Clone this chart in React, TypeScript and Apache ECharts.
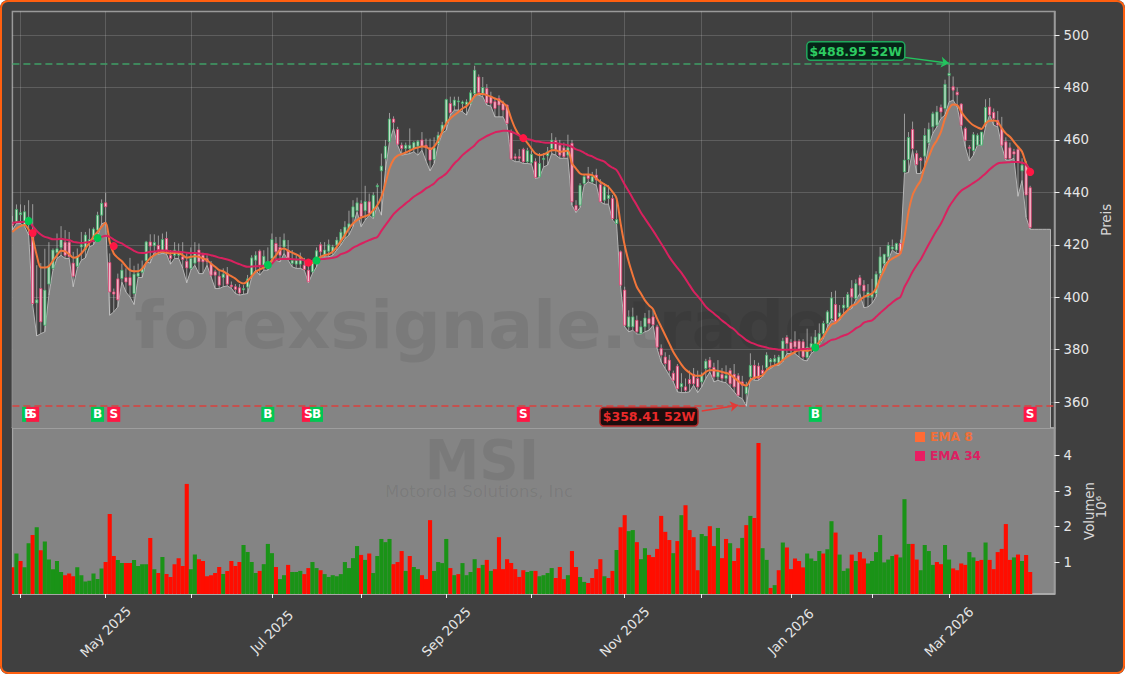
import { useEffect, useRef } from 'react'
import * as echarts from 'echarts'

// trading days, from 2025-03-28, plus a few empty days at the right edge
const holidays = ['2025-04-18', '2025-05-26', '2025-06-19', '2025-07-04', '2025-09-01', '2025-11-27', '2025-12-25', '2026-01-01', '2026-01-19', '2026-02-16']
const categories: string[] = []
for (let t = Date.UTC(2025, 2, 28); categories.length < 258; t += 86400000) {
  const d = new Date(t)
  const iso = d.toISOString().slice(0, 10)
  if (d.getUTCDay() !== 0 && d.getUTCDay() !== 6 && !holidays.includes(iso)) categories.push(iso)
}
const tickDates = ['2025-04-01', '2025-05-01', '2025-06-02', '2025-07-01', '2025-08-01', '2025-09-02', '2025-10-01', '2025-11-03', '2025-12-01', '2026-01-02', '2026-02-02', '2026-03-02']
const labelDates: Record<string, string> = {
  '2025-05-01': 'May 2025',
  '2025-07-01': 'Jul 2025',
  '2025-09-02': 'Sep 2025',
  '2025-11-03': 'Nov 2025',
  '2026-01-02': 'Jan 2026',
  '2026-03-02': 'Mar 2026'
}
const priceTicks = [360, 380, 400, 420, 440, 460, 480, 500]
const volumeTicks = [1, 2, 3, 4]

const opens = [
  428, 428.7, 431.5, 427.2, 428, 424.3, 397.8, 403.3, 389.3, 405,
  411, 417, 419, 421, 421, 413, 411.8, 419.2, 418, 421,
  422, 425.6, 431.3, 436, 413.2, 402, 407, 407.1, 407.5, 407.5,
  401.4, 408, 409.5, 413.9, 421.1, 419.6, 419.8, 417.3, 422.4, 416,
  416, 416, 415.4, 413.7, 411, 413, 418, 416, 414.8, 412.8,
  409.7, 408, 407.5, 409, 404.6, 404, 403.6, 402.8, 403.9, 408.4,
  414.1, 417.6, 412.2, 411, 414.8, 420.5, 419, 419.2, 418, 412.9,
  412.6, 412.6, 412.2, 410.3, 409.7, 413.5, 420, 416, 417.5, 417.3,
  419.9, 421.1, 423.3, 426, 430.5, 433, 435.7, 433, 436.4, 430.7,
  442.1, 448.2, 453, 459.3, 468, 464, 458, 456.7, 456.7, 456.7,
  457.6, 460, 458, 457, 452.5, 458.6, 463, 466.3, 473.9, 473,
  474.5, 473.9, 473.5, 474, 477.7, 484, 477.7, 479.6, 476.5, 474.6,
  475.8, 473.9, 473.3, 463, 453.6, 453.6, 456.4, 451.7, 451.3, 451.7,
  445.9, 452.5, 454, 456.7, 459.7, 458, 457, 454.2, 458.7, 435,
  435.1, 443.4, 446.6, 444, 446.6, 443, 437, 437.7, 437.7, 428.1,
  417.3, 402.7, 388.7, 388.7, 391.2, 386.1, 388.7, 391.8, 392.5, 388.7,
  380.4, 377.2, 376, 371, 373.7, 365.8, 365.8, 368.6, 370.6, 369,
  367.7, 372.8, 376, 373.2, 369.6, 370.6, 369, 372, 370.6, 370,
  367.7, 363.2, 369.6, 374, 373.7, 372.1, 373.2, 375.3, 375.3, 374.8,
  376, 384.6, 382.7, 383.2, 383.2, 383, 377, 380, 379.8, 382.3,
  386.1, 390, 391.8, 397.2, 392.5, 395.9, 396, 403.3, 399.5, 407.4,
  404.6, 400.1, 400.1, 401.4, 409, 412.8, 415.4, 418.4, 418, 420.5,
  447.8, 452.5, 464, 454.8, 453, 453.8, 458.9, 465, 465.6, 472.4,
  472, 484.6, 480.3, 478.2, 473.7, 464.4, 457.2, 456, 458, 458,
  466.3, 472.6, 470.5, 467.5, 464.4, 459.3, 457, 455.5, 456.4, 448.2,
  450.4, 441.8
]
const highs = [
  431, 435.4, 435.4, 435.1, 437, 435.5, 412.2, 413, 418.5, 421,
  418.6, 424.3, 427.1, 425.6, 424.9, 417.3, 418.6, 424.9, 424.9, 426.2,
  426.6, 432.6, 437.3, 439.8, 416.7, 403.3, 409, 412.8, 411, 415,
  412, 412.8, 414, 421.5, 424, 424, 423.5, 424.3, 425, 418,
  421, 420.5, 421, 416.7, 419, 421, 420.5, 417, 416, 413.8,
  410.5, 410, 411, 411.5, 406, 405, 405, 404.6, 408.5, 416,
  417.5, 418.2, 417.9, 419, 424.3, 423, 423, 424.3, 421.8, 418,
  416, 417, 415, 412.4, 414, 419, 421, 421, 422, 420,
  423, 426, 429, 433, 437, 438, 437, 442.5, 439.5, 440,
  443.4, 454.8, 460, 470.3, 469, 465, 459, 459, 464.4, 459.5,
  460, 463, 460.5, 460.5, 461, 463.1, 466.9, 475.7, 476.5, 476.5,
  476.5, 475, 475.5, 479, 488.3, 485, 484, 481.3, 478.4, 476,
  477, 475, 473.5, 464, 454.8, 456.5, 457, 457, 456, 453,
  455, 455, 457.3, 462.6, 461, 460, 459, 462, 460, 437,
  443.5, 447, 449.7, 447.8, 449, 445, 443.5, 442.7, 439, 438,
  417.8, 404, 395, 396, 393, 391, 394, 395, 395, 389.5,
  382, 379, 378, 372, 374.5, 371, 369, 372, 373, 372,
  371.3, 376.5, 377.2, 375, 376, 373, 374, 373, 374.5, 371,
  370, 367.7, 378.6, 376, 375, 374, 379, 376.8, 378, 378,
  384.5, 385.5, 384, 387, 384, 384, 388, 385, 387.5, 390,
  391, 395, 402, 402.5, 397, 400, 402, 406.5, 406.8, 408.5,
  406.5, 405, 407, 409.9, 419.2, 416.5, 421, 422, 420.8, 422,
  470, 463, 467, 456, 453.5, 464.5, 466.6, 470.8, 473, 473.5,
  483, 488.95, 484.2, 480, 474, 465, 458, 463, 462.5, 463,
  475.5, 476, 472, 471, 468.8, 461, 459, 456.6, 457.5, 453,
  452, 442.5
]
const lows = [
  425.6, 428.1, 428.1, 427, 423.7, 397, 385.2, 386.1, 386.8, 400.8,
  410.3, 414.8, 416, 414.8, 414.8, 404, 411, 414.1, 415, 419.2,
  420, 423, 428, 428.6, 393.1, 394.4, 396.3, 405.8, 402, 400.1,
  397.2, 407.5, 407.5, 413.5, 413, 417.2, 416.4, 416.7, 416.5, 412.6,
  414.8, 414.8, 411, 405.5, 410.3, 412.2, 409, 409, 412.2, 407.8,
  403.3, 403.3, 404, 404.3, 403.4, 401.4, 400.8, 401.1, 401.4, 407.5,
  410.3, 408.4, 410.3, 410.3, 413.6, 414.1, 413.5, 416.7, 414.1, 411.6,
  411, 411, 410.3, 405.5, 409, 411.6, 415.4, 415.4, 415.4, 416,
  418, 419.9, 422.4, 423.7, 426.9, 432.6, 426.9, 429.4, 431.3, 430,
  435, 431.3, 448.5, 459.3, 464.4, 458, 454.2, 454.5, 454.8, 455.5,
  454.2, 456.1, 452, 448.2, 451, 458, 462.5, 463.7, 469.5, 471.4,
  471.4, 470.7, 469.5, 473.3, 477.5, 477.1, 476.5, 473.3, 472.9, 468.8,
  468.8, 468.8, 465.6, 452.6, 451.7, 451.7, 451, 451, 450.8, 445.3,
  445.7, 449.7, 450.4, 454.8, 454.2, 453, 453, 453, 435.1, 432.3,
  434.2, 442.7, 444, 443.4, 442.7, 436.4, 435.5, 435.5, 429.4, 427.9,
  403.9, 388.7, 386.8, 387.4, 385.9, 385.9, 386.8, 387.4, 389.3, 380.4,
  375.3, 372.8, 370.2, 367.7, 363.9, 363.6, 363.6, 363.9, 366.4, 363.6,
  365.8, 369, 371.5, 367.7, 368.3, 367.7, 367.4, 365.8, 363.9, 362,
  361.3, 358.41, 369, 368.3, 368.3, 369.6, 372.1, 372.8, 374, 374,
  375.3, 378.5, 378.5, 378.5, 377.2, 376, 375.7, 378.5, 379.8, 381.7,
  384.2, 388.7, 391.2, 390.6, 391.2, 393.8, 395, 395.7, 398.9, 401.4,
  396, 396.3, 397.6, 400.1, 408.4, 412.2, 414.1, 418, 416.7, 416.7,
  447.2, 447.6, 456, 447.2, 447.2, 449.7, 458, 462.5, 465, 468.2,
  469.5, 474.5, 475.2, 472.6, 465, 457.4, 452, 454.2, 458, 458,
  465, 469.5, 465.6, 465, 457.4, 452.3, 452.3, 453, 438.5, 444.6,
  430.4, 425.9
]
const closes = [
  427.5, 433.5, 432.2, 432.6, 430.5, 397.6, 399, 390.6, 402.7, 412,
  418, 418.5, 422, 416, 415.5, 408, 415.4, 420, 423.7, 422,
  426, 431.3, 435.8, 434.5, 402, 401.2, 399, 410.3, 405.8, 404.5,
  408.8, 409.2, 411, 421.1, 419.5, 420.9, 418.2, 422, 418, 414.8,
  418, 417.5, 414.4, 411.2, 414.8, 416.7, 413.5, 413.5, 413.5, 408.4,
  408.4, 404.6, 408.8, 405, 404, 403, 401.6, 403.3, 407, 415,
  416, 412.2, 415.6, 413.5, 422, 417.3, 416, 421.8, 415, 414.1,
  414.1, 415.4, 410.6, 405.9, 412.9, 417.7, 417.3, 418, 420, 419.2,
  421.8, 424.8, 426.8, 428, 434.5, 436, 430.7, 436.5, 432, 438.9,
  442.6, 450, 457.6, 468, 466.7, 458.4, 456.7, 458, 458, 459,
  459.5, 457.5, 457, 452.3, 457, 461.8, 465.7, 475.4, 470.4, 475.2,
  474.9, 474.5, 474.5, 478, 486.6, 478.1, 480, 474.2, 474, 472,
  473.3, 471.4, 466.3, 452.7, 453, 453, 451.7, 455.9, 454.5, 445.7,
  451, 453, 455.5, 459.9, 456.1, 454.2, 453.6, 457, 436.4, 433.2,
  442.7, 446, 445.3, 446, 444.7, 436.4, 442.1, 438.9, 430, 429.6,
  404.6, 389.3, 392.5, 392.5, 386.8, 388.7, 392.1, 390, 389.5, 381,
  377.9, 374.7, 372.1, 368.3, 365.1, 367, 364.5, 367, 367, 365.8,
  370.2, 375.6, 373.2, 369.6, 371.5, 369, 370.2, 367, 365.8, 362.6,
  366.4, 365.8, 374, 369, 369, 370.9, 377.9, 376.2, 376.6, 377.2,
  383.3, 382.3, 379.8, 381, 379.8, 377.2, 381, 382.3, 384.8, 386.1,
  390, 394.4, 399.7, 390.7, 394, 397, 401, 400.1, 405.2, 404.6,
  402.4, 401.8, 401.4, 408.8, 415.4, 416.4, 419.8, 419.2, 420.5, 416.8,
  452.3, 460.9, 456.7, 450.6, 452.2, 461.7, 464.1, 470, 470.7, 470.7,
  481.2, 485.4, 479, 477.2, 465.6, 459.9, 456.8, 462, 461.8, 463,
  472.4, 469.5, 468.2, 465.7, 458, 452.9, 452.9, 454.6, 451.6, 450.4,
  439, 426.6
]
// the grey mountain follows the lows and runs flat past the last candle
const mountainTail = [425.9, 425.9, 425.9, 425.9, 425.9]

const ema8 = [
  424.9, 426.2, 427.1, 427.5, 425.8, 422.4, 416, 411.3, 411.3, 411.8,
  413.9, 416, 417.7, 417.5, 416.4, 415.1, 415.4, 416.7, 418.6, 420.7,
  423, 424.9, 426.8, 428.4, 421.1, 416.7, 415, 413.7, 411.8, 410.3,
  409.9, 409.9, 410.9, 413.1, 415, 416, 416.9, 417.3, 417, 416.7,
  417, 416.9, 416, 415.1, 415.4, 415.6, 415.4, 414.8, 414.1, 412.8,
  411.6, 410.3, 409.9, 408.8, 408, 407.1, 405.8, 405.2, 406.2, 408,
  409.7, 410.6, 411.3, 412.2, 414.1, 416, 418, 418.6, 417.7, 417,
  416.3, 415.4, 414.1, 413.2, 413.1, 414.4, 415.4, 416, 416.4, 417.3,
  419.2, 421.4, 423.7, 426.2, 428.1, 429.4, 430.4, 430.9, 431.6, 433.2,
  435.1, 438.3, 443.4, 449.1, 452.5, 454, 454.6, 455.2, 455.9, 456.7,
  457.1, 457.5, 457.4, 456.5, 457.4, 459.9, 463.1, 466.3, 468.2, 469.5,
  470.7, 472, 472.9, 474.6, 476.7, 477.5, 477.5, 477.1, 476.5, 475.8,
  475.2, 474.2, 472.6, 468.2, 464.4, 461.8, 460.6, 458.9, 456.7, 454.8,
  454.2, 454.5, 455.2, 456.1, 456.1, 455.5, 455.7, 455.9, 451, 449.1,
  447.2, 446.8, 446.8, 446.6, 445.3, 444, 443.1, 442.1, 440.2, 437.7,
  428.1, 419.8, 413.5, 408.4, 403.9, 401.4, 398.8, 396.9, 395.4, 391.8,
  388.7, 385.5, 382.3, 379.1, 376.6, 374.3, 372.4, 371.2, 370.2, 370,
  370.2, 371.5, 372.1, 372.1, 371.9, 371.5, 371.1, 370.5, 369.3, 368,
  366.8, 366.2, 368.3, 369.3, 369.6, 370.2, 372.1, 373.4, 374, 374.7,
  376, 377.2, 378.2, 379.1, 379.8, 379.8, 379.5, 380, 381, 383,
  384.9, 387.4, 389.6, 390.2, 391.8, 393.5, 395, 396.7, 397.3, 398.8,
  400.1, 400.8, 401.4, 403.3, 407.1, 410.3, 413.5, 414.7, 415.6, 416.7,
  423, 432.6, 438.9, 442.1, 444.6, 449.7, 453.6, 457.4, 459.9, 463.1,
  468.2, 472, 473.5, 473.3, 470.7, 468.6, 466.9, 465.6, 464.8, 464.2,
  466.3, 467.3, 467.4, 466.9, 464.4, 462.5, 461.2, 459.3, 457.4, 455.5,
  451, 447.8
]
const ema34 = [
  428.4, 428.6, 428.7, 428.8, 429.1, 427.1, 425.3, 423.9, 423, 422.6,
  422.1, 422.1, 422.3, 422, 421.8, 421.1, 420.9, 420.7, 420.9, 421.1,
  421.5, 422.4, 423, 423.4, 423, 422, 421.1, 420.5, 419.5, 418.6,
  417.7, 417, 416.9, 417, 417.3, 417.4, 417.7, 417.8, 417.7, 417.5,
  417.4, 417.3, 417.2, 417, 416.9, 416.9, 416.7, 416.5, 416.4, 416,
  415.6, 415.1, 414.8, 414.4, 413.9, 413.2, 412.6, 412, 411.6, 411.7,
  411.8, 411.8, 412, 412.2, 412.8, 414.4, 414.5, 414.6, 414.6, 414.5,
  414.4, 414.4, 414.1, 413.5, 413.9, 414.4, 414.5, 414.6, 414.8, 415,
  415.4, 416.4, 416.9, 417.7, 418.8, 419.6, 420.4, 421.1, 421.8, 422.4,
  423, 425.3, 427.5, 429.6, 431.7, 433.2, 434.5, 435.8, 437, 438.3,
  439.3, 440.3, 441.5, 442.4, 443.4, 445, 446, 447.2, 449.1, 451,
  452.5, 454.2, 455.5, 456.7, 458, 459.7, 460.6, 461.5, 462.2, 462.9,
  463.2, 463.5, 463.5, 463.1, 462.5, 461.7, 461, 460.4, 460, 459.5,
  459.3, 459, 458.9, 458.9, 458.8, 458.5, 458.3, 458, 457.4, 456.4,
  455.9, 455.1, 454.2, 453.7, 452.9, 452.3, 451.7, 450.4, 449.4, 448.5,
  445.9, 443, 440.4, 437.7, 435.1, 432.3, 430, 427.7, 425.4, 423,
  420.5, 418, 415.4, 413.2, 411.2, 409.3, 407, 404.6, 402.2, 400.4,
  398.5, 396.4, 395, 393.8, 392.5, 391.1, 390, 388.7, 387.7, 386.1,
  384.9, 383.6, 382.8, 382.2, 381.6, 381.2, 380.8, 380.4, 380.2, 380,
  380, 380, 380, 380, 380, 380.2, 380.3, 380.4, 380.7, 381.1,
  381.8, 382.8, 383.7, 384, 384.7, 385.4, 385.9, 386.9, 388.1, 388.9,
  390.3, 390.8, 391.2, 392.5, 394, 395.3, 396.7, 398, 399.2, 400.1,
  403.9, 406.7, 409.7, 412.2, 414.4, 417.3, 420.2, 423, 425.6, 428.1,
  431.3, 434.5, 436.8, 438.9, 440.6, 441.6, 442.6, 443.6, 444.6, 445.9,
  447.2, 448.7, 450, 451, 451.3, 451.4, 451.5, 451.6, 451.6, 451.3,
  450.6, 448.5
]

// millions of shares
const volumes = [
  0.85, 1.24, 1.03, 0.85, 1.53, 1.76, 1.98, 1.33, 1.58, 1.07,
  0.8, 1.03, 0.72, 0.63, 0.68, 0.6, 0.85, 0.63, 0.45, 0.47,
  0.68, 0.52, 0.82, 1, 2.35, 1.17, 1.06, 0.97, 0.97, 0.97,
  1.06, 0.89, 0.94, 0.94, 1.68, 0.8, 0.69, 1.14, 0.66, 0.58,
  0.94, 1.11, 0.89, 3.2, 0.8, 1.21, 1.08, 1.03, 0.6, 0.63,
  0.69, 0.86, 0.66, 0.75, 1.03, 0.89, 1, 1.48, 1.28, 1,
  0.69, 0.75, 0.94, 1.51, 1.25, 0.86, 0.52, 0.63, 0.92, 0.72,
  0.72, 0.75, 0.66, 0.83, 1, 0.83, 0.77, 0.66, 0.58, 0.63,
  0.6, 0.66, 1, 0.83, 1.11, 1.45, 1.2, 1.06, 1.24, 0.69,
  1.17, 1.65, 1.56, 1.65, 0.94, 1, 1.31, 0.75, 1.17, 0.86,
  0.8, 0.63, 0.52, 2.18, 0.75, 1, 0.97, 1.65, 0.83, 0.63,
  0.66, 0.97, 0.63, 0.72, 1.08, 0.83, 0.92, 1.06, 0.75, 0.8,
  1.7, 0.8, 1.08, 0.97, 0.8, 0.58, 0.77, 0.72, 0.75, 0.75,
  0.6, 0.63, 0.69, 0.83, 0.55, 0.86, 0.52, 0.63, 1.31, 0.86,
  0.58, 0.44, 0.41, 0.55, 0.8, 1.08, 0.6, 0.55, 0.75, 1.34,
  1.98, 2.32, 1.87, 1.9, 1.56, 1.08, 1.39, 1.2, 1.14, 1.37,
  2.3, 1.85, 1.62, 1.25, 1.59, 2.32, 2.6, 1.9, 1.7, 0.77,
  1.79, 1.73, 2.01, 1.45, 1.96, 1.11, 1.65, 1.53, 1.03, 1.39,
  1.68, 2.04, 2.3, 2.24, 4.35, 1.39, 1.06, 0.27, 0.35, 0.77,
  1.55, 1.41, 0.8, 1.1, 1.03, 0.85, 1.24, 1.1, 1.03, 1.31,
  1.24, 1.36, 2.15, 1.83, 1.21, 0.75, 0.82, 1.21, 1.03, 1.28,
  1.1, 0.96, 1.03, 1.28, 1.76, 0.99, 1.07, 1.17, 1.21, 1.13,
  2.77, 1.51, 1.51, 1.07, 0.77, 1.48, 1.31, 0.92, 1, 0.94,
  1.48, 1.07, 0.82, 0.77, 0.96, 0.92, 1.28, 1.13, 1.03, 1.06,
  1.55, 1.06, 0.8, 1.28, 1.37, 2.07, 1.06, 1.13, 1.21, 1.03,
  1.2, 0.72
]
// R = down day, G = up day
const volumeSides = (
  'RGRGGRGRGG' + 'GGGRRRGGGG' + 'GGGRRRGGRR' + 'GGGGRGRGRR' + 'RRRRGGRRRR' +
  'RRGRRRRGGG' + 'GRGGGRGGRG' + 'GGRRGGRGGG' + 'GGGGGGRGRG' + 'GGGGRRRGRG' +
  'GRRRGGGGRG' + 'RGGGGRGRGR' + 'RRRRRRRGGR' + 'GGGGRRRGRR' + 'GGRRRRGRRG' +
  'RRGGRGGRRR' + 'RRRGRGRRRR' + 'GGRRGRRGRR' + 'GRGRRGGRGR' + 'GRRRRRGGGG' +
  'RGGRGGGRGR' + 'RGGGGGGGRG' + 'GGRRGGGGRR' + 'GGRRRRGGRR' + 'GRRRRRRGRG' +
  'RR'
).split('')

const signalIndex = [4, 5, 21, 25, 63, 73, 75, 126, 198, 251]
const signalSide = ['B', 'S', 'B', 'S', 'B', 'S', 'B', 'S', 'B', 'S']
const crossPrice = [429.1, 424.5, 422.6, 419.5, 412.3, 413.2, 414, 460.7, 380.8, 447.8]

const high52w = 488.95
const low52w = 358.41

const GREEN = '#00c853'
const RED = '#ff1744'
const EMA8_COLOR = '#f2763a'
const EMA34_COLOR = '#d9215f'

function renderCandle(_params: any, api: any) {
  const i = api.value(0)
  const o = api.value(1)
  const c = api.value(4)
  const up = c >= o
  const top = api.coord([i, api.value(2)])
  const bottom = api.coord([i, api.value(3)])
  const a = api.coord([i, Math.max(o, c)])
  const b = api.coord([i, Math.min(o, c)])
  return {
    type: 'group',
    children: [
      {
        type: 'line',
        shape: { x1: top[0], y1: top[1], x2: bottom[0], y2: bottom[1] },
        style: { stroke: '#cfcfcf', lineWidth: 0.8, opacity: 0.8 }
      },
      {
        type: 'rect',
        shape: { x: a[0] - 1.1, y: a[1], width: 2.2, height: Math.max(b[1] - a[1], 1) },
        style: {
          fill: up ? '#c3dfca' : '#f5c6d4',
          stroke: up ? '#3aad66' : '#e23d70',
          lineWidth: 0.8
        }
      }
    ]
  }
}

export default function App() {
  const chartRef = useRef<HTMLDivElement>(null)

  useEffect(() => {
    if (!chartRef.current) return
    document.body.style.margin = '0'
    document.body.style.background = '#fff'

    const chart = echarts.init(chartRef.current, undefined, { renderer: 'svg' })

    const isTick = (_i: number, value: string) => tickDates.includes(value)
    const textColor = '#e6e6e6'
    const gridLine = 'rgba(255,255,255,0.16)'

    const option: echarts.EChartsOption = {
      animation: false,
      backgroundColor: '#404040',
      textStyle: { fontFamily: 'DejaVu Sans' },
      legend: {
        left: 915,
        top: 431,
        orient: 'vertical',
        itemWidth: 10,
        itemHeight: 10,
        itemGap: 7,
        padding: 0,
        icon: 'rect',
        selectedMode: false,
        data: [
          { name: 'EMA 8', itemStyle: { color: '#ff6b35' }, textStyle: { color: '#f0703a', fontWeight: 'bold', fontSize: 12.2 } },
          { name: 'EMA 34', itemStyle: { color: '#e91e63' }, textStyle: { color: '#dc2062', fontWeight: 'bold', fontSize: 12.2 } }
        ]
      },
      grid: [
        { left: 12.4, right: 70.5, top: 11.5, height: 416.5, show: true, backgroundColor: '#404040', borderColor: '#9a9a9a', borderWidth: 1.5 },
        { left: 12.4, right: 70.5, top: 428, height: 166, show: true, backgroundColor: '#848484', borderColor: '#a6a6a6', borderWidth: 1.5 }
      ],
      xAxis: [
        {
          type: 'category',
          gridIndex: 0,
          data: categories,
          boundaryGap: false,
          axisLine: { show: false },
          axisTick: { show: false },
          axisLabel: { show: false },
          splitLine: { show: true, interval: isTick, lineStyle: { color: gridLine, width: 1 } }
        },
        {
          type: 'category',
          gridIndex: 1,
          data: categories,
          boundaryGap: false,
          axisLine: { show: true, lineStyle: { color: '#b0b0b0', width: 1.5 } },
          axisTick: { show: true, interval: isTick, length: 4, alignWithLabel: true, lineStyle: { color: '#f0f0f0' } },
          axisLabel: {
            interval: (_i: number, value: string) => !!labelDates[value],
            formatter: (value: string) => labelDates[value] || '',
            rotate: 45,
            align: 'center',
            verticalAlign: 'middle',
            margin: 38,
            color: textColor,
            fontSize: 13.3
          },
          splitLine: { show: false }
        }
      ],
      yAxis: [
        {
          type: 'value',
          gridIndex: 0,
          position: 'right',
          min: 350.1,
          max: 509,
          name: 'Preis',
          nameLocation: 'middle',
          nameGap: 37,
          nameRotate: 90,
          nameTextStyle: { color: '#d8d8d8', fontSize: 13.3 },
          axisLine: { show: true, lineStyle: { color: '#9a9a9a', width: 1.5 } },
          axisTick: { show: true, length: 5, customValues: priceTicks, lineStyle: { color: '#f0f0f0' } },
          axisLabel: { customValues: priceTicks, margin: 9, color: textColor, fontSize: 13.3 },
          splitLine: { show: true, lineStyle: { color: gridLine, width: 1 } }
        },
        {
          type: 'value',
          gridIndex: 1,
          position: 'right',
          min: 0.1,
          max: 4.775,
          name: 'Volumen',
          nameLocation: 'middle',
          nameGap: 16,
          nameRotate: 90,
          nameTextStyle: { color: '#d8d8d8', fontSize: 13.3 },
          axisLine: { show: true, lineStyle: { color: '#9a9a9a', width: 1.5 } },
          axisTick: { show: true, length: 5, customValues: volumeTicks, lineStyle: { color: '#f0f0f0' } },
          axisLabel: { customValues: volumeTicks, margin: 9, color: textColor, fontSize: 13.3 },
          splitLine: { show: false }
        }
      ],
      graphic: [
        // bars on a non-band axis are clipped a band too wide, so cover the overhang left of the plot
        {
          type: 'rect',
          z: 10,
          silent: true,
          shape: { x: 3, y: 428, width: 8.8, height: 167 },
          style: { fill: '#404040' }
        },
        {
          type: 'text',
          x: 482,
          y: 325,
          z: 1.5,
          silent: true,
          style: { text: 'forexsignale.trade', fill: 'rgba(0,0,0,0.075)', fontSize: 66.7, fontWeight: 'bold', fontFamily: 'DejaVu Sans', align: 'center', verticalAlign: 'middle' }
        },
        {
          type: 'text',
          x: 482,
          y: 460,
          z: 1.5,
          silent: true,
          style: { text: 'MSI', fill: 'rgba(0,0,0,0.075)', fontSize: 54.8, fontWeight: 'bold', fontFamily: 'DejaVu Sans', align: 'center', verticalAlign: 'middle' }
        },
        {
          type: 'text',
          x: 479,
          y: 491,
          z: 1.5,
          silent: true,
          style: { text: 'Motorola Solutions, Inc', fill: 'rgba(0,0,0,0.075)', fontSize: 16.5, fontFamily: 'DejaVu Sans', align: 'center', verticalAlign: 'middle' }
        },
        {
          type: 'text',
          x: 1101,
          y: 507,
          rotation: Math.PI / 2,
          style: { text: '10⁶', fill: '#d8d8d8', fontSize: 13.3, fontFamily: 'DejaVu Sans', align: 'center', verticalAlign: 'middle' }
        }
      ],
      series: [
        {
          name: 'Low',
          type: 'line',
          xAxisIndex: 0,
          yAxisIndex: 0,
          z: 1,
          data: [...lows, ...mountainTail],
          symbol: 'none',
          lineStyle: { color: '#b4b4b4', width: 1 },
          areaStyle: { color: '#848484', opacity: 1 },
          silent: true,
          markLine: {
            silent: true,
            symbol: 'none',
            label: { show: false },
            lineStyle: { color: '#b4b4b4', width: 1, type: 'solid' },
            data: [[{ coord: [256, mountainTail[0]] }, { coord: [256, 350.1] }]]
          }
        },
        {
          name: 'Candles',
          type: 'custom',
          xAxisIndex: 0,
          yAxisIndex: 0,
          z: 3,
          clip: true,
          renderItem: renderCandle,
          encode: { x: 0, y: [1, 2, 3, 4] },
          data: opens.map((o, i) => [i, o, highs[i], lows[i], closes[i]])
        },
        {
          name: 'EMA 8',
          type: 'line',
          xAxisIndex: 0,
          yAxisIndex: 0,
          z: 4,
          data: ema8,
          smooth: 0.3,
          symbol: 'none',
          lineStyle: { color: EMA8_COLOR, width: 2 },
          itemStyle: { color: EMA8_COLOR }
        },
        {
          name: 'EMA 34',
          type: 'line',
          xAxisIndex: 0,
          yAxisIndex: 0,
          z: 4,
          data: ema34,
          smooth: 0.3,
          symbol: 'none',
          lineStyle: { color: EMA34_COLOR, width: 2 },
          itemStyle: { color: EMA34_COLOR }
        },
        {
          name: 'Crossings',
          type: 'scatter',
          xAxisIndex: 0,
          yAxisIndex: 0,
          z: 5,
          symbolSize: 8,
          data: signalIndex.map((x, k) => ({
            value: [x, crossPrice[k]],
            itemStyle: { color: signalSide[k] === 'B' ? GREEN : RED, opacity: 1 }
          }))
        },
        {
          name: 'Signals',
          type: 'scatter',
          xAxisIndex: 0,
          yAxisIndex: 0,
          z: 6,
          symbol: 'rect',
          symbolSize: [13, 15],
          label: { show: true, position: 'inside', color: '#fff', fontWeight: 'bold', fontSize: 12 },
          data: signalIndex.map((x, k) => ({
            value: [x, 355.3],
            itemStyle: { color: signalSide[k] === 'B' ? GREEN : RED, opacity: 1 },
            label: { formatter: signalSide[k] }
          }))
        },
        {
          name: '52W high',
          type: 'scatter',
          xAxisIndex: 0,
          yAxisIndex: 0,
          z: 7,
          symbolSize: 1,
          itemStyle: { color: 'transparent', opacity: 1 },
          label: {
            show: true,
            position: 'inside',
            formatter: `$${high52w} 52W`,
            color: '#2ecc62',
            backgroundColor: '#062418',
            borderColor: '#20a85c',
            borderWidth: 1.5,
            borderRadius: 3,
            padding: [2, 2],
            fontWeight: 'bold',
            fontSize: 12.5
          },
          data: [[208, 493.9]],
          markLine: {
            silent: true,
            symbol: ['none', 'arrow'],
            symbolSize: 8,
            label: { show: false },
            lineStyle: { color: '#22c55e', width: 1.5, type: 'solid' },
            data: [[{ coord: [220, 491.5] }, { coord: [231, 489.3] }]]
          }
        },
        {
          name: '52W low',
          type: 'scatter',
          xAxisIndex: 0,
          yAxisIndex: 0,
          z: 7,
          symbolSize: 1,
          itemStyle: { color: 'transparent', opacity: 1 },
          label: {
            show: true,
            position: 'inside',
            formatter: `$${low52w} 52W`,
            color: '#e82a2a',
            backgroundColor: '#1c0d0d',
            borderColor: '#b02626',
            borderWidth: 1.5,
            borderRadius: 3,
            padding: [2, 2],
            fontWeight: 'bold',
            fontSize: 12.5
          },
          data: [[157, 354.4]],
          markLine: {
            silent: true,
            symbol: ['none', 'arrow'],
            symbolSize: 8,
            label: { show: false },
            lineStyle: { color: '#e53935', width: 1.5, type: 'solid' },
            data: [[{ coord: [170, 356.6] }, { coord: [179, 358.8] }]]
          }
        },
        {
          name: 'Levels',
          type: 'line',
          xAxisIndex: 0,
          yAxisIndex: 0,
          z: 2,
          data: [],
          markLine: {
            silent: true,
            symbol: 'none',
            label: { show: false },
            data: [
              { yAxis: high52w, lineStyle: { color: '#3f9f66', width: 1.5, type: [7, 4] } },
              { yAxis: low52w, lineStyle: { color: '#d9403c', width: 1.5, type: [7, 4] } }
            ]
          }
        },
        {
          name: 'Volume',
          type: 'bar',
          xAxisIndex: 1,
          yAxisIndex: 1,
          z: 3,
          clip: true,
          barWidth: 4.1,
          data: volumes.map((v, i) => ({
            value: v,
            itemStyle: { color: volumeSides[i] === 'R' ? '#ff0d00' : '#1a9317' }
          }))
        }
      ]
    }

    chart.setOption(option)

    return () => {
      chart.dispose()
    }
  }, [])

  return (
    <div style={{ position: 'relative', width: 1125, height: 674, overflow: 'hidden', borderRadius: 8 }}>
      <div ref={chartRef} style={{ width: 1125, height: 674 }} />
      <div
        style={{
          position: 'absolute',
          inset: 0,
          boxSizing: 'border-box',
          border: '2.5px solid #ff5f0f',
          borderRadius: 8,
          pointerEvents: 'none'
        }}
      />
    </div>
  )
}
